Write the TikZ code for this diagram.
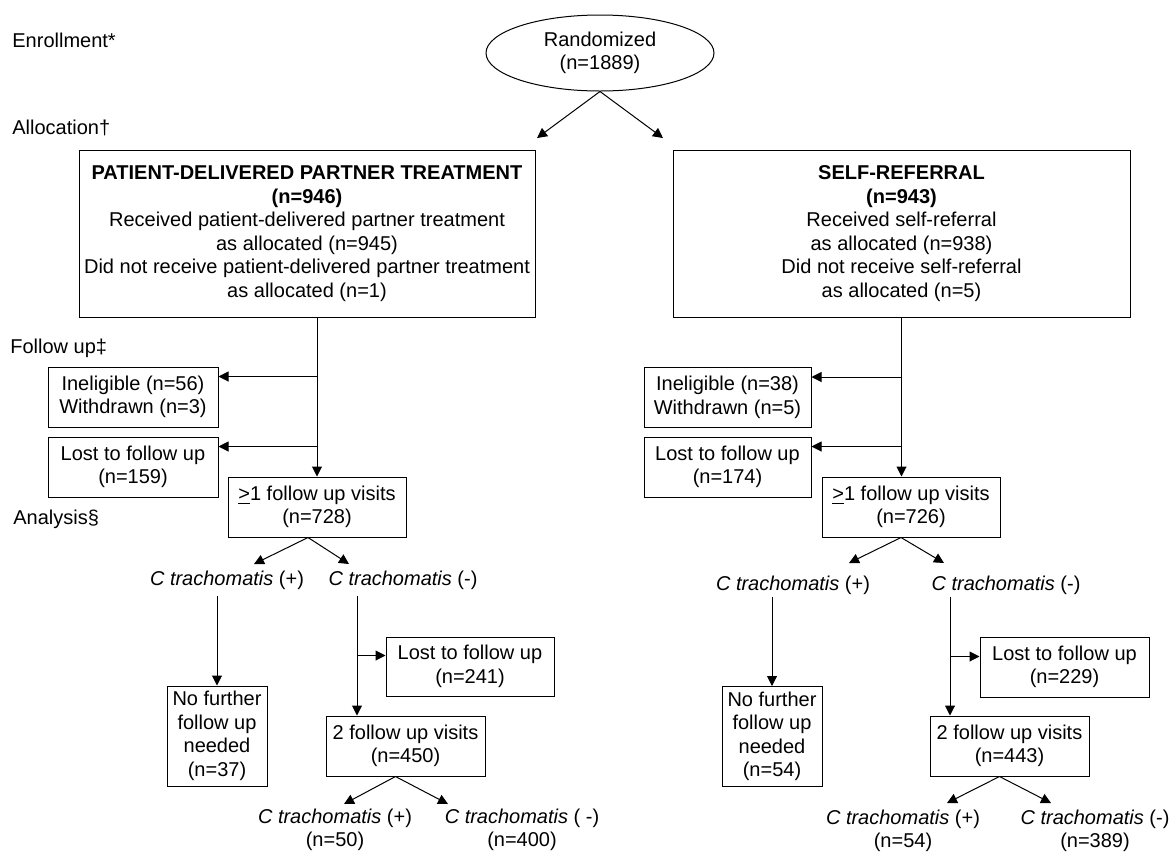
\documentclass[tikz,border=0pt]{standalone}
\usepackage{fontspec}
\setmainfont{Liberation Sans}
\usetikzlibrary{arrows.meta,shapes.geometric,calc}
\tikzset{
  box/.style={draw,line width=0.5pt,align=center,inner sep=0pt},
  tag/.style={inner sep=0pt,align=center},
  stage/.style={inner sep=0pt,anchor=west},
  arr/.style={line width=0.5pt,-{Triangle[length=5pt,width=5pt]}},
}
\newcommand{\ctr}{\textit{C trachomatis}}
\begin{document}
\begin{tikzpicture}[x=0.5pt,y=-0.5pt,every node/.style={font=\fontsize{10}{11.75}\selectfont}]
  \useasboundingbox (0,0) rectangle (1173,858);
  \node[stage] (enr) at (12,40) {Enrollment*};
  \node[stage] (alc) at (12,128) {Allocation†};
  \node[stage] (fol) at (10,348) {Follow up‡};
  \node[stage] (ana) at (13,519) {Analysis§};

  \node[box,ellipse,minimum width=114pt,minimum height=38pt] (rand) at (600,53) {Randomized\\(n=1889)};
  \node[box,minimum width=228pt,minimum height=83.5pt] (pdpt) at (307,233.5)
    {\textbf{PATIENT-DELIVERED PARTNER TREATMENT}\\\textbf{(n=946)}\\Received patient-delivered partner treatment\\as allocated (n=945)\\Did not receive patient-delivered partner treatment\\as allocated (n=1)};
  \node[box,minimum width=228.5pt,minimum height=83.5pt] (self) at (901.5,233.5)
    {\textbf{SELF-REFERRAL}\\\textbf{(n=943)}\\Received self-referral\\as allocated (n=938)\\Did not receive self-referral\\as allocated (n=5)};

  \node[box,minimum width=85pt,minimum height=30pt] (inelL) at (133,397) {Ineligible (n=56)\\Withdrawn (n=3)};
  \node[box,minimum width=85pt,minimum height=30pt] (lostL) at (133,467) {Lost to follow up\\(n=159)};
  \node[box,minimum width=83.5pt,minimum height=30pt] (inelR) at (727.5,397.5) {Ineligible (n=38)\\Withdrawn (n=5)};
  \node[box,minimum width=83.5pt,minimum height=30pt] (lostR) at (727.5,467) {Lost to follow up\\(n=174)};
  \node[box,minimum width=89pt,minimum height=30pt] (visL) at (317,507) {\underline{>}1 follow up visits\\(n=728)};
  \node[box,minimum width=89pt,minimum height=30pt] (visR) at (911,507) {\underline{>}1 follow up visits\\(n=726)};

  \node[tag] (posL) at (227,580) {\ctr{} (+)};
  \node[tag] (negL) at (403,580) {\ctr{} (-)};
  \node[tag] (posR) at (793,585) {\ctr{} (+)};
  \node[tag] (negR) at (1006,585) {\ctr{} (-)};

  \node[box,minimum width=50pt,minimum height=50pt] (nofuL) at (217,736) {No further\\follow up\\needed\\(n=37)};
  \node[box,minimum width=50pt,minimum height=50pt] (nofuR) at (772,736.5) {No further\\follow up\\needed\\(n=54)};
  \node[box,minimum width=84pt,minimum height=29.5pt] (lostL2) at (470,666.5) {Lost to follow up\\(n=241)};
  \node[box,minimum width=84.5pt,minimum height=30pt] (lostR2) at (1064.5,667) {Lost to follow up\\(n=229)};
  \node[box,minimum width=79.5pt,minimum height=30pt] (twoL) at (405.5,746) {2 follow up visits\\(n=450)};
  \node[box,minimum width=79.5pt,minimum height=30pt] (twoR) at (1009.5,746) {2 follow up visits\\(n=443)};

  \node[tag] (posL2) at (335,830) {\ctr{} (+)\\(n=50)};
  \node[tag] (negL2) at (522,830) {\ctr{} ( -)\\(n=400)};
  \node[tag] (posR2) at (903,831) {\ctr{} (+)\\(n=54)};
  \node[tag] (negR2) at (1095,831) {\ctr{} (-)\\(n=389)};

  \coordinate (aL) at (537,138);
  \coordinate (aR) at (663,138);
  \coordinate (bL1) at (254,564);
  \coordinate (bL2) at (349,564);
  \coordinate (bR1) at (849,563);
  \coordinate (bR2) at (944,563);
  \coordinate (cL1) at (344,804);
  \coordinate (cL2) at (448,804);
  \coordinate (cR1) at (947,803);
  \coordinate (cR2) at (1051,803);
  \coordinate (nL) at (357,596);
  \coordinate (nR) at (950,597);

  \draw[arr] (rand.south) -- (aL);
  \draw[arr] (rand.south) -- (aR);

  \draw[arr] (pdpt.south -| visL.north) -- (visL.north);
  \draw[arr] ($(visL.north |- inelL.north)+(0,10)$) -- ($(inelL.north east)+(0,10)$);
  \draw[arr] ($(visL.north |- lostL.north)+(0,10)$) -- ($(lostL.north east)+(0,10)$);
  \draw[arr] (self.south) -- (self.south |- visR.north);
  \draw[arr] ($(self.south |- inelR.north)+(0,10)$) -- ($(inelR.north east)+(0,10)$);
  \draw[arr] ($(self.south |- lostR.north)+(0,10)$) -- ($(lostR.north east)+(0,10)$);

  \draw[arr] ($(visL.south)+(-9,0)$) -- (bL1);
  \draw[arr] ($(visL.south)+(-9,0)$) -- (bL2);
  \draw[arr] ($(visR.south)+(-10,0)$) -- (bR1);
  \draw[arr] ($(visR.south)+(-10,0)$) -- (bR2);

  \draw[arr] (nofuL.north |- nL) -- (nofuL.north);
  \draw[arr] (nofuR.north |- nR) -- (nofuR.north);
  \draw[arr] (nL) -- (nL |- twoL.north);
  \draw[arr] (nR) -- (nR |- twoR.north);
  \draw[arr] ($(nL |- lostL2.north)+(0,19)$) -- ($(lostL2.north west)+(0,19)$);
  \draw[arr] ($(nR |- lostR2.north)+(0,20)$) -- ($(lostR2.north west)+(0,20)$);

  \draw[arr] ($(twoL.south)+(-10,0)$) -- (cL1);
  \draw[arr] ($(twoL.south)+(-10,0)$) -- (cL2);
  \draw[arr] ($(twoR.south)+(-10,0)$) -- (cR1);
  \draw[arr] ($(twoR.south)+(-10,0)$) -- (cR2);
\end{tikzpicture}
\end{document}
